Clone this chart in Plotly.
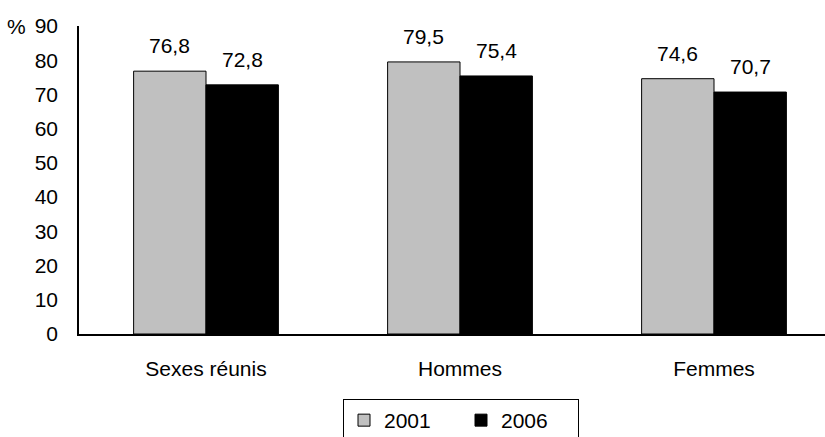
import plotly.graph_objects as go

categories = ["Sexes réunis", "Hommes", "Femmes"]
values_2001 = [76.8, 79.5, 74.6]
values_2006 = [72.8, 75.4, 70.7]
series_names = ["2001", "2006"]
y_ticks = [0, 10, 20, 30, 40, 50, 60, 70, 80, 90]

FONT = "Liberation Sans, Arial, sans-serif"
FS = 21
W, H = 825, 437
M_L, M_R, M_T, M_B = 79, 0, 26, 103
BARGAP = 0.43

fig = go.Figure()
fig.add_trace(go.Bar(
    name=series_names[0], x=categories, y=values_2001,
    marker=dict(color="#c0c0c0", line=dict(color="black", width=1)),
))
fig.add_trace(go.Bar(
    name=series_names[1], x=categories, y=values_2006,
    marker=dict(color="black", line=dict(color="black", width=1)),
))

# value labels above each bar, shifted to the bar's centre within its group
plot_w = W - M_L - M_R
plot_h = H - M_T - M_B
x_range = [-0.5, 2.437]
cat_px = plot_w / (x_range[1] - x_range[0])
half = cat_px * (1 - BARGAP) / 4
annotations = []
for vals, shift in ((values_2001, -half), (values_2006, half)):
    for c, v in zip(categories, vals):
        annotations.append(dict(
            x=c, y=v, xref="x", yref="y", text=f"{v:.1f}".replace(".", ","),
            showarrow=False, xshift=shift, yshift=12, yanchor="bottom",
            font=dict(family=FONT, size=FS, color="black"),
        ))
annotations.append(dict(
    x=0, y=90, xref="paper", yref="y", text="%", showarrow=False,
    xanchor="right", yanchor="middle", xshift=-51,
    font=dict(family=FONT, size=FS, color="black"),
))

fig.update_layout(
    width=W, height=H,
    margin=dict(l=M_L, r=M_R, t=M_T, b=M_B, autoexpand=False),
    paper_bgcolor="white", plot_bgcolor="white",
    barmode="group", bargap=BARGAP, bargroupgap=0,
    font=dict(family=FONT, size=FS, color="black"),
    annotations=annotations,
    showlegend=True,
    legend=dict(
        orientation="h", x=(343 - M_L) / plot_w, xanchor="left",
        y=-(399 - (H - M_B)) / plot_h, yanchor="top",
        bordercolor="black", borderwidth=1, bgcolor="white",
        entrywidth=72, font=dict(family=FONT, size=FS, color="black"),
    ),
    xaxis=dict(
        range=x_range, showline=True, linecolor="black", linewidth=1.5,
        ticks="", showgrid=False, ticklabelstandoff=15,
        tickfont=dict(family=FONT, size=FS, color="black"),
    ),
    yaxis=dict(
        range=[0, 90], tickvals=y_ticks, showline=True, linecolor="black",
        linewidth=1.5, ticks="", showgrid=False, zeroline=False,
        ticklabelstandoff=15,
        tickfont=dict(family=FONT, size=FS, color="black"),
    ),
)

fig.write_html("out.html")
